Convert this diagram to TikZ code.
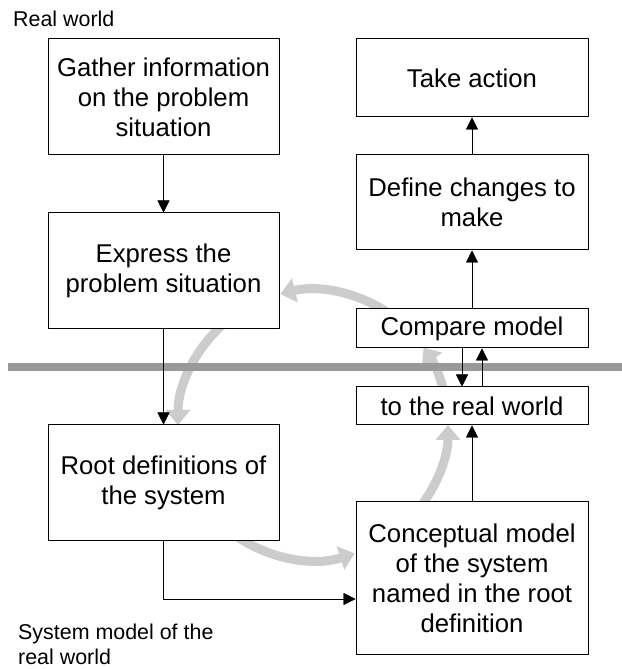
\documentclass[tikz,border=0pt]{standalone}
\usepackage{fontspec}
\setmainfont{Liberation Sans}
\usetikzlibrary{arrows.meta}
\definecolor{cyclegray}{gray}{0.8}
\definecolor{bargray}{gray}{0.6}
\begin{document}
\begin{tikzpicture}[>={Triangle[length=12bp,width=12bp]},line join=bevel,
  stage/.style={draw=black,fill=white,line width=1bp,inner sep=0pt,align=center,
    font=\fontsize{25.8}{30.1}\selectfont},
  leftstage/.style={stage,minimum width=231bp,minimum height=116bp},
  rightstage/.style={stage,minimum width=232bp},
  note/.style={inner sep=0pt,align=left,font=\fontsize{21.5}{25}\selectfont},
  roundtrip/.style={draw=cyclegray,line width=9bp,-{Triangle[length=15bp,width=24bp]}},
  divider/.style={draw=bargray,line width=8bp},
]
\useasboundingbox (0bp,0bp) rectangle (622bp,669bp);
%%
  % Cycle: gray arcs round the hub
  \coordinate (hub) at (313bp,244bp);
  \draw [roundtrip] ([shift={(55:135bp)}]hub) arc [start angle=55,end angle=104,radius=135bp];
  \draw [roundtrip] ([shift={(130:135bp)}]hub) arc [start angle=130,end angle=180,radius=135bp];
  \draw [roundtrip] ([shift={(235:135bp)}]hub) arc [start angle=235,end angle=288,radius=135bp];
  \draw [roundtrip] ([shift={(-40:135bp)}]hub) arc [start angle=-40,end angle=0,radius=135bp];
  \draw [roundtrip] ([shift={(10:135bp)}]hub) arc [start angle=10,end angle=35,radius=135bp];
  % Divider: real world / system model
  \coordinate (barL) at (8bp,302bp);
  \coordinate (barR) at (622bp,302bp);
  \draw [divider] (barL) -- (barR);
  % Labels
  \node [note,anchor=base west] (realworld) at (13bp,642bp) {Real world};
  \node [note,anchor=north west] (sysmodel) at (18bp,45bp) {System model of the\\real world};
  % Node: gather
  \node [leftstage] (gather) at (163.5bp,572bp) {Gather information\\on the problem\\situation};
  % Node: express
  \node [leftstage] (express) at (163.5bp,398bp) {Express the\\problem situation};
  % Node: root
  \node [leftstage] (root) at (163.5bp,186bp) {Root definitions of\\the system};
  % Node: take
  \node [rightstage,minimum height=78bp] (take) at (472bp,591bp) {Take action};
  % Node: define
  \node [rightstage,minimum height=95bp] (define) at (472bp,466.5bp) {Define changes to\\make};
  % Node: compare
  \node [rightstage,minimum height=39bp] (compare) at (472bp,340.5bp) {Compare model};
  % Node: toreal
  \node [rightstage,minimum height=38bp] (toreal) at (472bp,263bp) {to the real world};
  % Node: concept
  \node [rightstage,minimum height=153bp] (concept) at (472bp,90.5bp) {Conceptual model\\of the system\\named in the root\\definition};
%
  % Edge: gather -> express
  \draw [->] (gather) -- (express);
  % Edge: express -> root
  \draw [->] (express) -- (root);
  % Edge: root -> concept
  \draw [->] (root.south) |- ([yshift=-20.5bp]concept.west);
  % Edge: concept -> toreal
  \draw [->] (concept) -- (toreal);
  % Edge: compare -> toreal
  \draw [->] ([xshift=-10bp]compare.south) -- ([xshift=-10bp]toreal.north);
  % Edge: toreal -> compare
  \draw [->] ([xshift=10bp]toreal.north) -- ([xshift=10bp]compare.south);
  % Edge: compare -> define
  \draw [->] (compare) -- (define);
  % Edge: define -> take
  \draw [->] (define) -- (take);
%
\end{tikzpicture}
\end{document}
